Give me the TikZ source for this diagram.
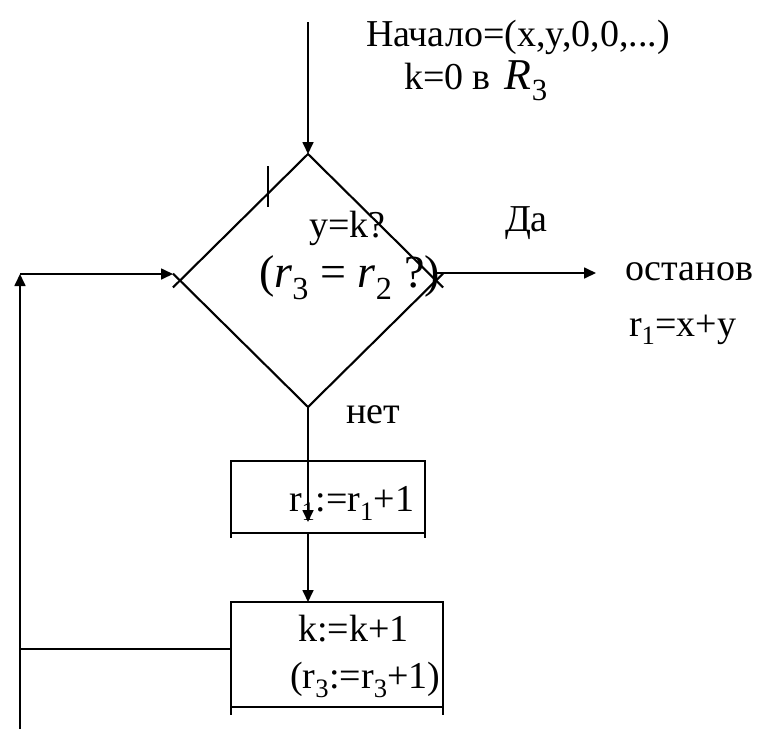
\documentclass[tikz,border=0pt]{standalone}
\usepackage{fontspec}
\setmainfont{Liberation Serif}
\usetikzlibrary{arrows.meta,shapes.geometric,calc}
\begin{document}
\begin{tikzpicture}[x=1pt,y=-1pt,
  conn/.style={line width=1.7pt},
  arr/.style={conn,-{Triangle[length=12pt,width=11pt]}},
  boxln/.style={draw,line width=2.6pt,inner sep=0pt,outer sep=0pt},
  dline/.style={line width=2.1pt},
  txt/.style={anchor=base west,inner sep=0pt,outer sep=0pt,font=\fontsize{38}{45}\selectfont},
  mtxt/.style={anchor=base west,inner sep=0pt,outer sep=0pt,font=\fontsize{46}{54}\selectfont}]
\useasboundingbox (0,0) rectangle (757,729);

% decision
\node[diamond,draw,dline,minimum width=256pt,minimum height=253pt,inner sep=0pt,outer sep=0pt] (dec) at (308,280.5) {};
\draw[dline] (dec.west) -- ($(dec.north)!1.055!(dec.west)$);
\draw[dline] (dec.west) -- ($(dec.south)!1.055!(dec.west)$);
\draw[dline] (dec.east) -- ($(dec.north)!1.055!(dec.east)$);
\draw[dline] (dec.east) -- ($(dec.south)!1.055!(dec.east)$);
\draw[dline] (268,166) -- (268,207);

% boxes
\node[boxln,minimum width=194pt,minimum height=72pt] (b1) at (328,497) {};
\draw[line width=2.6pt] (b1.south west) -- ++(0,5);
\draw[line width=2.6pt] (b1.south east) -- ++(0,5);
\node[boxln,minimum width=212pt,minimum height=105pt] (b2) at (337,654.5) {};
\draw[line width=2.6pt] (b2.south west) -- ++(0,8);
\draw[line width=2.6pt] (b2.south east) -- ++(0,8);

% texts
\node[txt] (t1) at (366,46) {Начало=(x,y,0,0,...)};
\node[txt] (t2) at (404,89) {k=0 в\hspace{14pt}{\fontsize{44}{52}\selectfont\itshape R\textsubscript{\upshape 3}}};
\node[txt] (q1) at (309,237) {y=k?};
\node[mtxt] (q2) at (259,287) {(\textit{r}\textsubscript{3} = \textit{r}\textsubscript{2} ?)};
\node[txt] (yes) at (505,231) {Да};
\node[txt] (halt) at (625,280) {останов};
\node[txt] (res) at (629,336) {r\textsubscript{1}=x+y};
\node[txt] (no) at (346,423) {нет};
\node[txt] (s1) at (289,511) {r\textsubscript{1}:=r\textsubscript{1}+1};
\node[txt] (s2) at (298,641) {k:=k+1};
\node[txt] (s3) at (290,688) {(r\textsubscript{3}:=r\textsubscript{3}+1)};

% connectors
\coordinate (start) at (308,22);
\draw[arr] (start) -- (dec.north);
\coordinate (stop) at (596,273);
\draw[arr] (dec.east |- stop) -- (stop);
\coordinate (a1) at ($(dec.south |- b1.south)+(0,-11)$);
\draw[arr] (dec.south) -- (a1);
\coordinate (a2s) at (dec.south |- b1.south);
\coordinate (a2e) at (dec.south |- b2.north);
\draw[arr] (a2s) -- (a2e);
\coordinate (lbot) at (20,729);
\coordinate (ltop) at (20,274);
\draw[arr] (lbot) -- (ltop);
\coordinate (bj) at ($(b2.west)+(0,-5.5)$);
\draw[conn] (bj) -- (bj -| lbot);
\coordinate (lin) at ($(dec.west |- ltop)+(-7,0)$);
\draw[arr] (ltop) -- (lin);
\end{tikzpicture}
\end{document}
